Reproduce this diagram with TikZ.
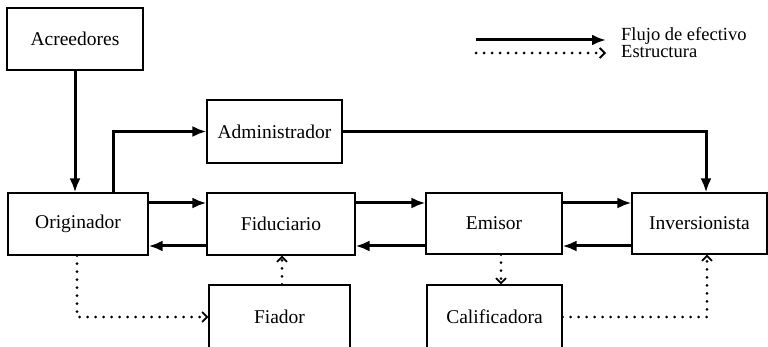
\documentclass[tikz,border=0pt]{standalone}
\usepackage{fontspec}
\setmainfont{Liberation Serif}
\usetikzlibrary{arrows.meta,calc}
\begin{document}
\begin{tikzpicture}[x=1pt,y=-1pt,
  box/.style={draw, line width=1.1pt, inner sep=0pt, font=\fontsize{19.5}{21}\selectfont},
  flow/.style={line width=3pt, -{Latex[length=14pt,width=11pt]}},
  struct/.style={line width=3pt, line cap=round, dash pattern=on 0pt off 8pt,
     -{Straight Barb[length=5pt,width=10pt,line width=1.8pt]}},
  legtext/.style={anchor=west, inner sep=0pt, font=\fontsize{18.5}{20}\selectfont}]
\useasboundingbox (0,0) rectangle (768,347);
\clip (0,0) rectangle (768,347);
\node[box, minimum width=136pt, minimum height=62pt] (acr) at (75,39) {Acreedores};
\node[box, minimum width=135pt, minimum height=63pt] (adm) at (274.5,131.5) {Administrador};
\node[box, minimum width=140pt, minimum height=62pt] (ori) at (78,224) {Originador};
\node[box, minimum width=148pt, minimum height=62pt] (fid) at (281,224) {Fiduciario};
\node[box, minimum width=136pt, minimum height=61pt] (emi) at (494,223.5) {Emisor};
\node[box, minimum width=135pt, minimum height=61pt] (inv) at (699.5,223.5) {Inversionista};
\node[box, minimum width=141pt, minimum height=64pt] (fia) at (279.5,317) {Fiador};
\node[box, minimum width=135pt, minimum height=64pt] (cal) at (494.5,317) {Calificadora};
% legend
\coordinate (l1a) at (476,40);
\coordinate (l1b) at (606,40);
\coordinate (l2a) at (476,53);
\coordinate (l2b) at (606,53);
\node[legtext] (lt1) at (621,36) {Flujo de efectivo};
\node[legtext] (lt2) at (621,52) {Estructura};
\draw[flow] (l1a) -- (l1b);
\draw[struct] (l2a) -- (l2b);
% cash flow
\draw[flow] (acr.south) -- (acr.south |- ori.north);
\coordinate (oritop) at ($(ori.north)+(35,0)$);
\draw[flow] (oritop) |- (adm.west);
\coordinate (invtop) at ($(inv.north)+(6.5,0)$);
\draw[flow] (adm.east) -| (invtop);
\coordinate (o1) at ($(ori.east)+(0,-21)$);
\coordinate (o2) at ($(ori.east)+(0,22)$);
\draw[flow] (o1) -- (o1 -| fid.west);
\draw[flow] (o2 -| fid.west) -- (o2);
\draw[flow] (o1 -| fid.east) -- (o1 -| emi.west);
\draw[flow] (o2 -| emi.west) -- (o2 -| fid.east);
\draw[flow] (o1 -| emi.east) -- (o1 -| inv.west);
\draw[flow] (o2 -| inv.west) -- (o2 -| emi.east);
% structure
\coordinate (oribot) at ($(ori.south)+(-1,0)$);
\draw[struct] (oribot) |- (fia.west);
\coordinate (fiatop) at ($(fia.north)+(2.5,0)$);
\draw[struct] (fiatop) -- (fiatop |- fid.south);
\coordinate (emibot) at ($(emi.south)+(7,0)$);
\draw[struct] (emibot) -- (emibot |- cal.north);
\coordinate (invbot) at ($(inv.south)+(7.5,0)$);
\draw[struct] (cal.east) -| (invbot);
\end{tikzpicture}
\end{document}
